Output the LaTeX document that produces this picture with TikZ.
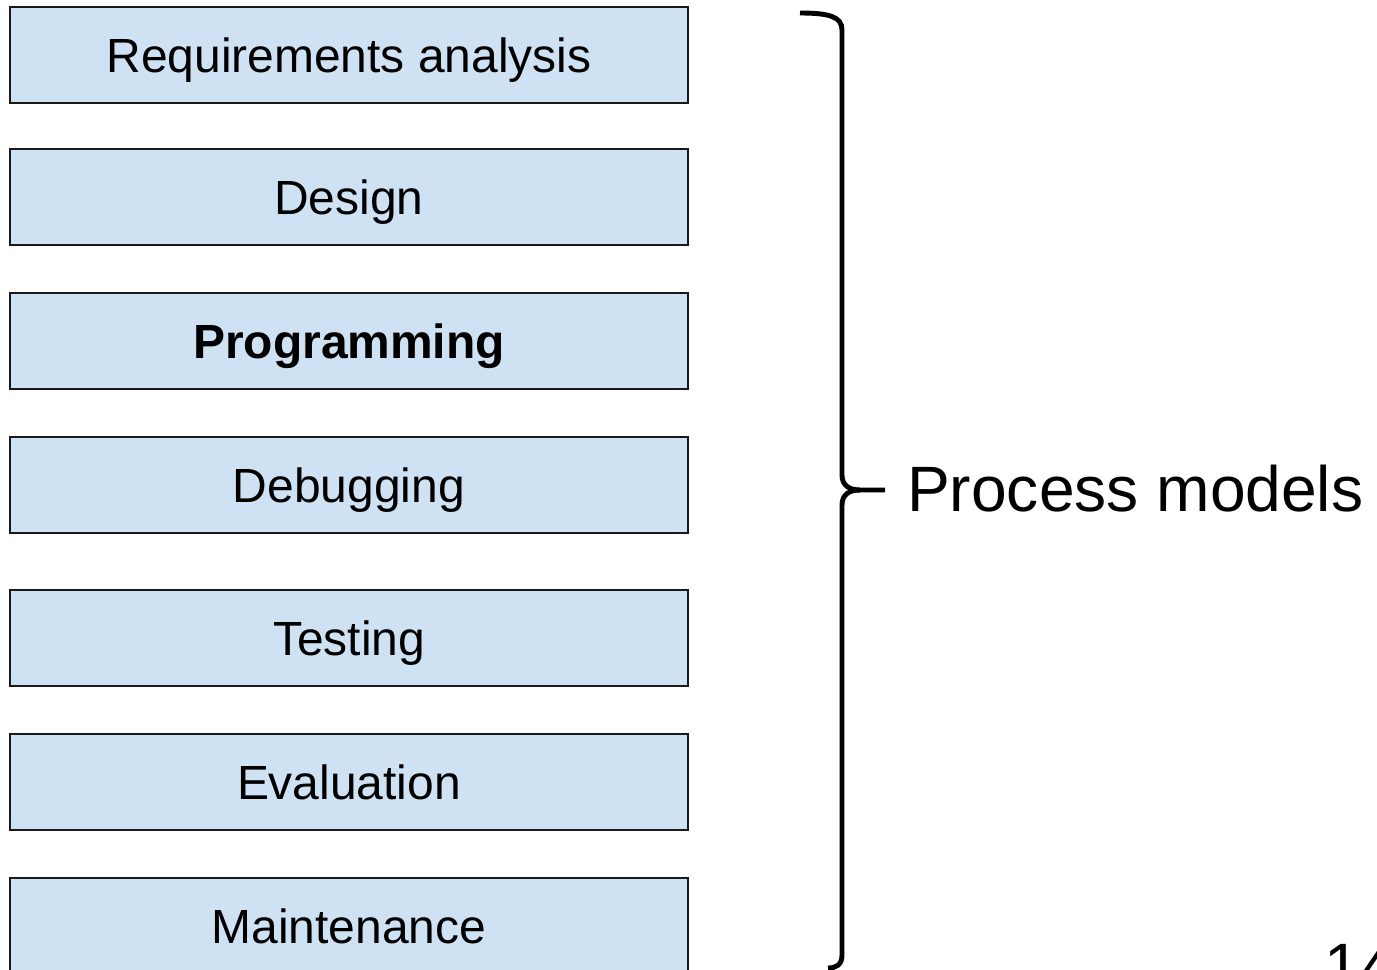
\documentclass[tikz,border=0pt]{standalone}
\usepackage{fontspec}
\setmainfont{Liberation Sans}
\usepackage{tikz}
\usetikzlibrary{positioning}
\definecolor{stagefill}{RGB}{207,226,243}

\begin{document}
\begin{tikzpicture}[x=0.02cm, y=-0.02cm,
    stage/.style={rectangle, minimum width=13.56cm, minimum height=1.92cm, draw=black!90, line width=1.1pt, fill=stagefill, text centered, text height=19.5pt, text depth=0pt, font=\fontsize{27.3}{32}\selectfont}]
    \useasboundingbox (0,0) rectangle (1377,970);
    \clip (0,0) rectangle (1377,970);

    \node [stage] (req) at (349,55) {Requirements analysis};
    \node [stage] (design) at (349,197) {Design};
    \node [stage] (prog) at (349,341) {\bfseries Programming};
    \node [stage] (debug) at (349,485) {Debugging};
    \node [stage] (test) at (349,638) {Testing};
    \node [stage] (eval) at (349,782) {Evaluation};
    \node [stage] (maint) at (349,926) {Maintenance};

    % brace over all stages
    \draw [line width=2.8pt] (800,13) .. controls (830,13) and (842,17) .. (842,30) -- (842,475)
        .. controls (842,486) and (850,490) .. (860,490) -- (885,490);
    \draw [line width=2.8pt] (860,490) .. controls (850,490) and (842,494) .. (842,505) -- (842,955)
        .. controls (842,965) and (836,968) .. (828,968);

    \node [anchor=west, text height=26.1pt, text depth=0pt, font=\fontsize{36.5}{42}\selectfont] (models) at (901,489) {Process models};
    \node [anchor=base west, inner sep=0pt, font=\fontsize{36.5}{42}\selectfont] (page) at (1324,988) {14};
\end{tikzpicture}
\end{document}
